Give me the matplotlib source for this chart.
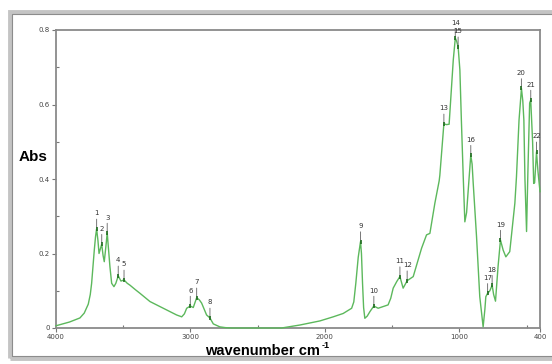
import matplotlib.pyplot as plt
from matplotlib.patches import Rectangle

# IR spectrum trace (wavenumber in cm-1, absorbance)
wavenumber = [4000, 3900, 3822, 3790, 3760, 3745, 3735, 3725, 3715, 3706, 3698,
              3688, 3680, 3670, 3660, 3650, 3641, 3630, 3619, 3610, 3599,
              3586, 3569, 3555, 3537, 3517, 3494, 3470, 3450, 3410, 3375,
              3301, 3202, 3103, 3065, 3045, 3028, 3001, 2979, 2954, 2935,
              2917, 2880, 2855, 2830, 2781, 2740, 2694, 2500, 2322, 2186,
              2037, 1938, 1864, 1801, 1785, 1770, 1752, 1735, 1728, 1720,
              1712, 1703, 1685, 1665, 1636, 1604, 1530, 1510, 1492, 1465,
              1442, 1418, 1388, 1343, 1281, 1244, 1219, 1182, 1150, 1145,
              1130, 1115, 1095, 1076, 1058, 1045, 1030, 1020, 1009, 996,
              985, 971, 959, 946, 934, 915, 905, 897, 872, 848, 823, 810,
              803, 790, 773, 756, 745, 731, 712, 694, 674, 654, 625, 587,
              575, 556, 538, 528, 520, 512, 500, 490, 477, 469, 455, 447,
              440, 426, 415, 400]
absorbance = [0.006, 0.016, 0.027, 0.040, 0.064, 0.090, 0.120, 0.165, 0.210, 0.245, 0.266,
              0.235, 0.200, 0.212, 0.225, 0.195, 0.178, 0.215, 0.255, 0.215, 0.165,
              0.120, 0.111, 0.120, 0.140, 0.126, 0.129, 0.120, 0.115, 0.103, 0.093,
              0.071, 0.053, 0.035, 0.030, 0.038, 0.053, 0.059, 0.055, 0.081, 0.076,
              0.067, 0.035, 0.027, 0.011, 0.003, 0.001, 0.000, 0.000, 0.000, 0.008,
              0.019, 0.030, 0.039, 0.053, 0.070, 0.120, 0.190, 0.232, 0.200, 0.120,
              0.055, 0.026, 0.032, 0.044, 0.059, 0.053, 0.062, 0.080, 0.107, 0.125,
              0.138, 0.107, 0.127, 0.138, 0.214, 0.250, 0.254, 0.335, 0.395, 0.410,
              0.480, 0.548, 0.546, 0.547, 0.648, 0.720, 0.778, 0.770, 0.755, 0.693,
              0.560, 0.406, 0.285, 0.310, 0.370, 0.464, 0.440, 0.390, 0.245, 0.084,
              0.003, 0.050, 0.084, 0.093, 0.100, 0.115, 0.090, 0.072, 0.165, 0.236,
              0.209, 0.191, 0.205, 0.335, 0.406, 0.558, 0.643, 0.610, 0.558, 0.400,
              0.259, 0.420, 0.604, 0.612, 0.500, 0.388, 0.390, 0.473, 0.420, 0.366]

# labelled peaks
peak_num = list(range(1, 23))
peak_wn = [3698, 3660, 3619, 3537, 3494, 3001, 2954, 2855, 1735, 1636, 1442,
           1388, 1115, 1030, 1009, 915, 790, 756, 694, 538, 469, 426]
peak_abs = [0.266, 0.225, 0.255, 0.140, 0.129, 0.059, 0.081, 0.027, 0.232, 0.059,
            0.138, 0.127, 0.548, 0.778, 0.755, 0.464, 0.093, 0.115, 0.236, 0.643,
            0.612, 0.473]

x_ticks = [4000, 3000, 2000, 1000, 400]
y_ticks = [0, 0.2, 0.4, 0.6, 0.8]

fig = plt.figure(figsize=(5.52, 3.64), dpi=100)
ax = fig.add_axes([56 / 552, 36 / 364, 484 / 552, 298 / 364])

# window-style border
fig.patches.append(Rectangle((10 / 552, 6 / 364), 1.1, 346 / 364, transform=fig.transFigure,
                             fill=False, edgecolor='#c4c4c4', lw=3.5, zorder=0))
fig.patches.append(Rectangle((12 / 552, 8 / 364), 1.1, 342 / 364, transform=fig.transFigure,
                             fill=False, edgecolor='#8c8c8c', lw=0.8, zorder=0))

ax.plot(wavenumber, absorbance, color='#5cb85c', lw=1.0, zorder=3, clip_on=False)
ax.plot(peak_wn, peak_abs, ls='none', marker='|', ms=3, mew=1.2, color='#1f6b1f', zorder=4)

for n, w, a in zip(peak_num, peak_wn, peak_abs):
    ax.annotate(str(n), xy=(w, a), xytext=(0, 9), textcoords='offset points',
                ha='center', va='bottom', fontsize=5, color='#333333',
                arrowprops=dict(arrowstyle='-', color='#777777', lw=0.7,
                                shrinkA=0, shrinkB=1))

ax.set_xlim(4000, 400)
ax.set_ylim(0, 0.8)
ax.set_xticks(x_ticks)
ax.set_xticklabels([str(t) for t in x_ticks])
ax.set_xticks([3500, 2500, 1500, 500], minor=True)
ax.set_yticks(y_ticks)
ax.set_yticklabels(['0', '0.2', '0.4', '0.6', '0.8'])
ax.set_yticks([0.1, 0.3, 0.5, 0.7], minor=True)
ax.tick_params(which='major', length=3, width=0.8, color='#777777',
               labelsize=5, labelcolor='#444444', pad=1.5)
ax.tick_params(which='minor', direction='in', length=2, width=0.8, color='#777777')

for s in ax.spines.values():
    s.set_color('#8a8a8a')
    s.set_linewidth(1.3)

fig.text(19 / 552, 1 - 157 / 364, 'Abs', fontsize=11, fontweight='bold',
         family='Liberation Sans', va='center', ha='left')
xlab = fig.text(205 / 552, 1 - 351 / 364, 'wavenumber cm', fontsize=10.5,
                fontweight='bold', family='Liberation Sans', va='center', ha='left')

# superscript placed just after the end of the label
fig.canvas.draw()
bb = xlab.get_window_extent()
fig.text((bb.x1 + 1.5) / 552, 1 - 346 / 364, '-1', fontsize=6.5,
         fontweight='bold', family='Liberation Sans', va='center', ha='left')

fig.savefig('out.png', dpi=100)
